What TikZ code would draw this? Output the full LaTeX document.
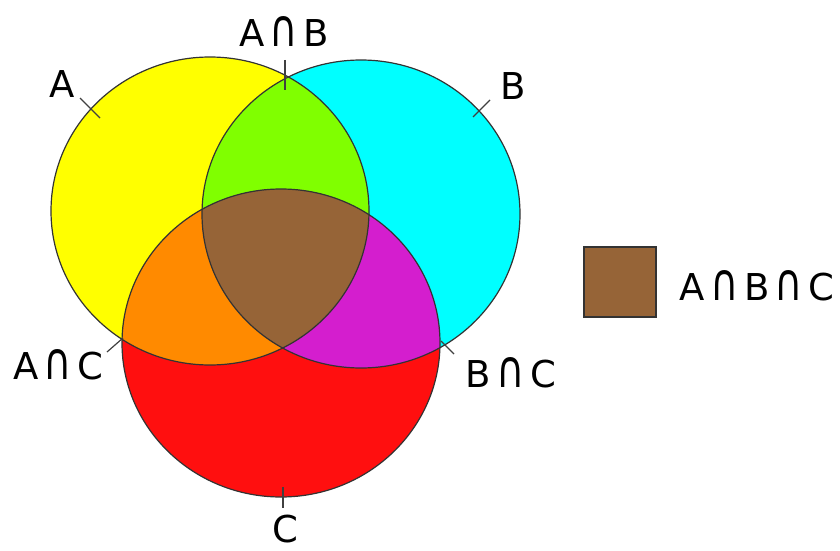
\documentclass[tikz,border=0pt]{standalone}
\usepackage{fontspec}
\usepackage{graphicx}
\newfontfamily\vennfont[LetterSpace=15]{DejaVu Sans}
\newcommand{\meet}{\hspace{0.14em}\scalebox{1.05}[1.4]{∩}\hspace{0.14em}}
\definecolor{setA}{HTML}{FFFF00}
\definecolor{setB}{HTML}{00FFFF}
\definecolor{setC}{HTML}{FF0F0F}
\definecolor{setAB}{HTML}{80FF00}
\definecolor{setAC}{HTML}{FF8A00}
\definecolor{setBC}{HTML}{D41ECE}
\definecolor{setABC}{HTML}{966437}
\begin{document}
\begin{tikzpicture}[x=1pt, y=-1pt,
        font=\vennfont\fontsize{37}{40}\selectfont,
        every node/.style={inner sep=0pt},
        vennset/.style={x radius=159pt, y radius=154pt},
        rim/.style={draw=black!80, line width=1.2pt},
        tick/.style={draw=black!75, line width=1.2pt}]
    \useasboundingbox (0,0) rectangle (840,551);
    \coordinate (cA) at (210,211);
    \coordinate (cB) at (361,214);
    \coordinate (cC) at (281,343);
    % the three sets
    \fill[setA] (cA) ellipse [vennset];
    \fill[setB] (cB) ellipse [vennset];
    \fill[setC] (cC) ellipse [vennset];
    % pairwise overlaps
    \begin{scope}
        \clip (cA) ellipse [vennset];
        \fill[setAB] (cB) ellipse [vennset];
        \fill[setAC] (cC) ellipse [vennset];
    \end{scope}
    \begin{scope}
        \clip (cB) ellipse [vennset];
        \fill[setBC] (cC) ellipse [vennset];
    \end{scope}
    % all three
    \begin{scope}
        \clip (cA) ellipse [vennset];
        \clip (cB) ellipse [vennset];
        \fill[setABC] (cC) ellipse [vennset];
    \end{scope}
    \draw[rim] (cA) ellipse [vennset];
    \draw[rim] (cB) ellipse [vennset];
    \draw[rim] (cC) ellipse [vennset];
    % ticks and labels
    \coordinate (tA1) at (80,98);    \coordinate (tA2) at (100,118);
    \coordinate (tAB1) at (285,60);  \coordinate (tAB2) at (285,90);
    \coordinate (tB1) at (473,117);  \coordinate (tB2) at (490,100);
    \coordinate (tAC1) at (107,352); \coordinate (tAC2) at (123,338);
    \coordinate (tBC1) at (441,341); \coordinate (tBC2) at (454,354);
    \coordinate (tC1) at (283,487);  \coordinate (tC2) at (283,508);
    \draw[tick] (tA1) -- (tA2);
    \draw[tick] (tAB1) -- (tAB2);
    \draw[tick] (tB1) -- (tB2);
    \draw[tick] (tAC1) -- (tAC2);
    \draw[tick] (tBC1) -- (tBC2);
    \draw[tick] (tC1) -- (tC2);
    \node (lA) at (62,84) {A};
    \node (lAB) at (284,32) {A\meet B};
    \node (lB) at (513,86) {B};
    \node (lAC) at (58,365) {A\meet C};
    \node (lBC) at (511,373) {B\meet C};
    \node (lC) at (285,529) {C};
    % key
    \node[draw=black!80, line width=1.2pt, fill=setABC, minimum width=72pt, minimum height=70pt] (key) at (620,282) {};
    \node (lABC) at (757,286) {A\meet B\meet C};
\end{tikzpicture}
\end{document}
